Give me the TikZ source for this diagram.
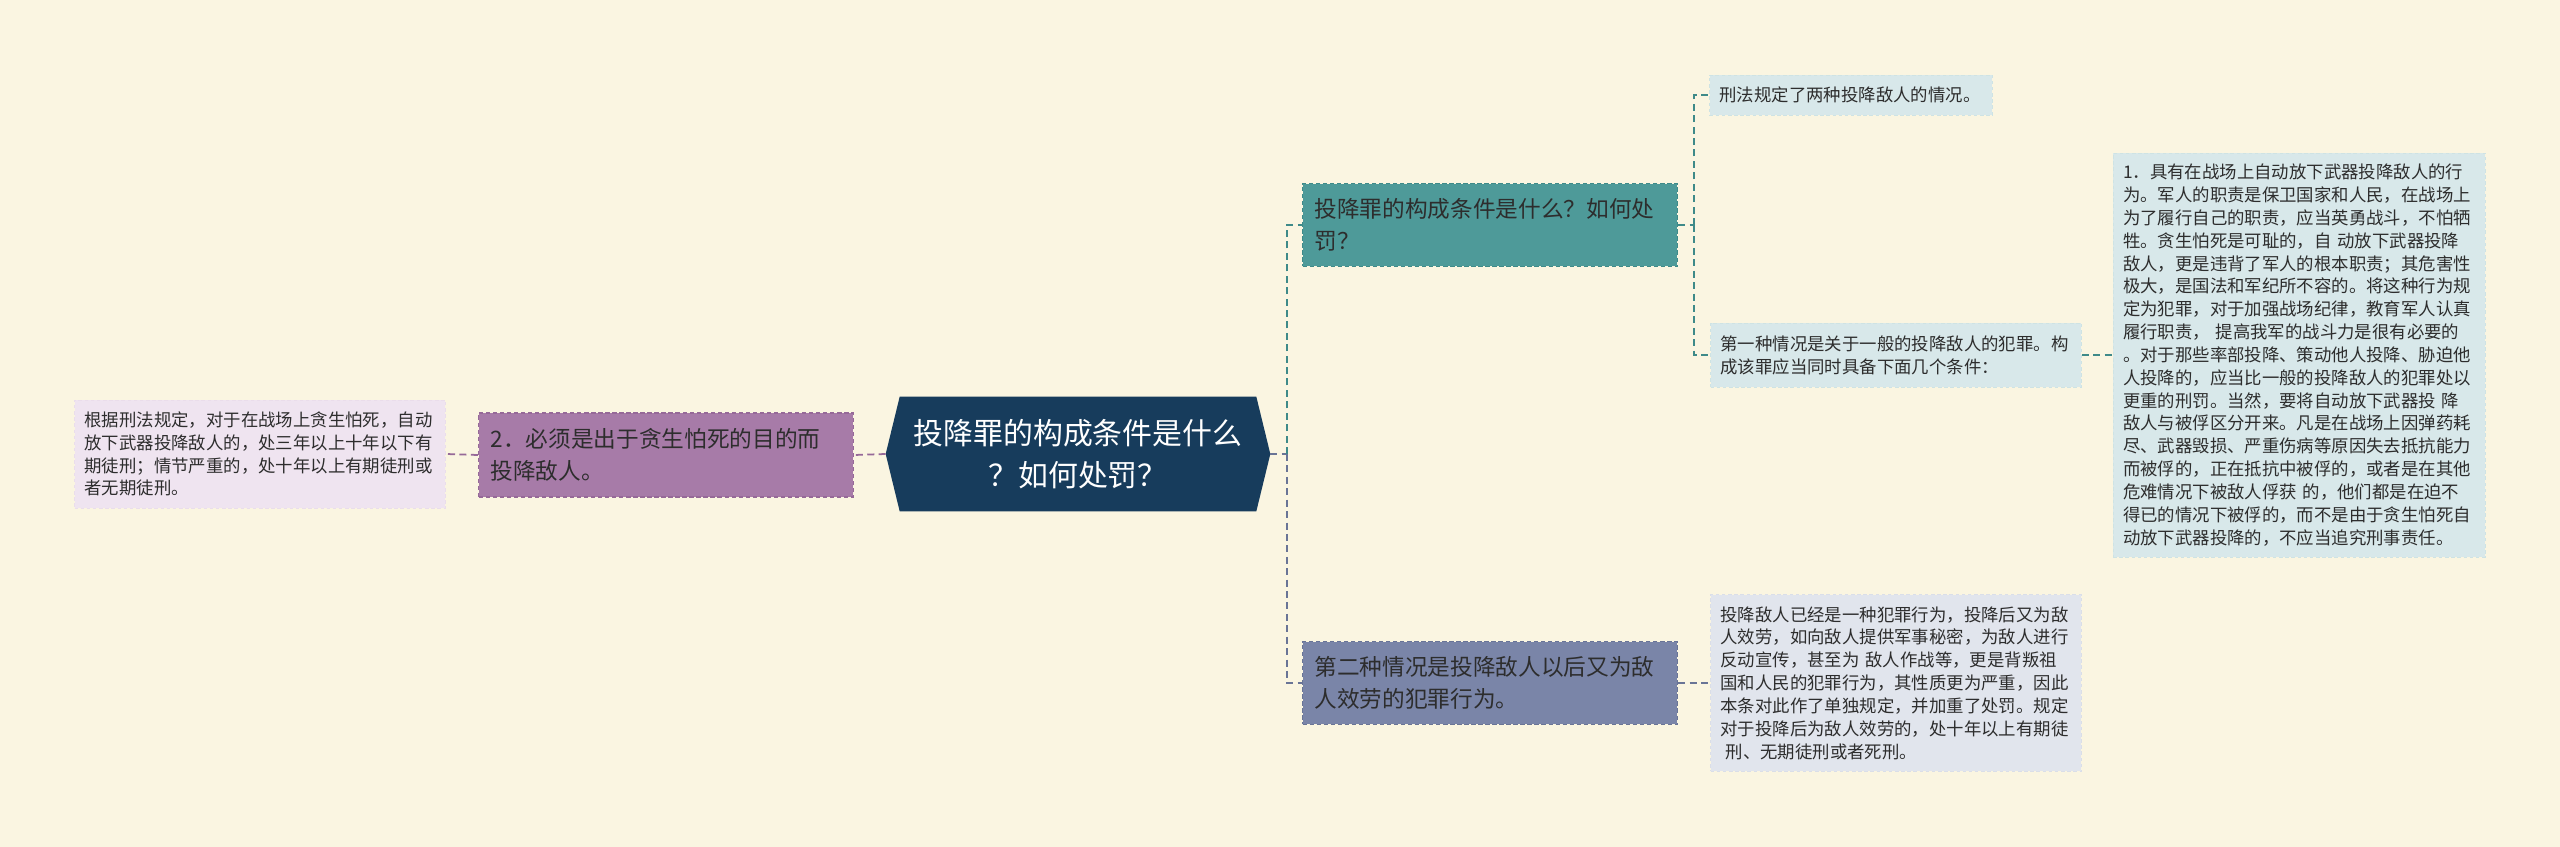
\documentclass[tikz,border=0pt]{standalone}
\usepackage{fontspec}
\usepackage{xcolor}
\usepackage{tikz}
\usetikzlibrary{
  positioning,
  backgrounds,
  calc
}
\newfontfamily\cjk{Noto Sans CJK SC}
\definecolor{Cream}{RGB}{250, 245, 225}
\definecolor{NavyRoot}{RGB}{23, 60, 92}
\definecolor{PurpleMid}{RGB}{167, 123, 168}
\definecolor{PurpleLine}{RGB}{150, 105, 152}
\definecolor{PurpleLeaf}{RGB}{239, 228, 240}
\definecolor{TealMid}{RGB}{78, 154, 153}
\definecolor{TealLine}{RGB}{62, 138, 137}
\definecolor{BlueLeaf}{RGB}{216, 232, 234}
\definecolor{SlateMid}{RGB}{122, 133, 168}
\definecolor{SlateLine}{RGB}{105, 116, 150}
\definecolor{SlateLeaf}{RGB}{225, 229, 237}
\definecolor{TextDark}{RGB}{45, 45, 45}
\tikzset{
    rootbox/.style={text=white, align=center, inner sep=0pt,
        minimum width=7.12cm, minimum height=2.28cm,
        font=\cjk\fontsize{17}{24}\selectfont},
    midbox/.style={draw, dash pattern=on 2.5pt off 1.5pt, line width=0.8pt,
        minimum height=1.66cm, text width=7.02cm, inner xsep=0.24cm,
        align=left, text=TextDark, font=\cjk\fontsize{12.9}{18}\selectfont},
    leafbox/.style={draw, dash pattern=on 2pt off 1.5pt, line width=0.4pt,
        inner xsep=0.2cm, align=left, text=TextDark,
        font=\cjk\fontsize{9.9}{13}\selectfont},
    link/.style={line width=1pt, dash pattern=on 4pt off 2.5pt},
}

\begin{document}
\begin{tikzpicture}[x=0.02cm, y=-0.02cm]
    \useasboundingbox (0,0) rectangle (2560,847);

    % centre
    \node[rootbox] (root) at (1078,454) {投降罪的构成条件是什么\\？如何处罚？};
    \coordinate (rootL) at ([xshift=-0.28cm]root.west);
    \coordinate (rootR) at ([xshift=0.28cm]root.east);

    % left branch
    \node[midbox, fill=PurpleMid, draw=PurpleLine, minimum height=1.68cm] (motive) at (666,455)
        {2．必须是出于贪生怕死的目的而\\投降敌人。};
    \node[leafbox, fill=PurpleLeaf, draw=PurpleLeaf!93!PurpleMid, text width=7.02cm, minimum height=2.16cm] (motivepen) at (260,454)
        {根据刑法规定，对于在战场上贪生怕死，自动\\放下武器投降敌人的，处三年以上十年以下有\\期徒刑；情节严重的，处十年以上有期徒刑或\\者无期徒刑。};

    % right branch
    \node[midbox, fill=TealMid, draw=TealLine] (cond) at (1490,225)
        {投降罪的构成条件是什么？如何处\\罚？};
    \node[leafbox, fill=BlueLeaf, draw=BlueLeaf!93!TealMid, text width=5.26cm, minimum height=0.8cm] (twokinds) at (1851,95)
        {刑法规定了两种投降敌人的情况。};
    \node[leafbox, fill=BlueLeaf, draw=BlueLeaf!93!TealMid, text width=7.02cm, minimum height=1.28cm] (firstkind) at (1896,355)
        {第一种情况是关于一般的投降敌人的犯罪。构\\成该罪应当同时具备下面几个条件：};
    \node[leafbox, fill=BlueLeaf, draw=BlueLeaf!93!TealMid, text width=7.04cm, minimum height=8.08cm] (firstdetail) at (2299,355)
        {1．具有在战场上自动放下武器投降敌人的行\\
         为。军人的职责是保卫国家和人民，在战场上\\
         为了履行自己的职责，应当英勇战斗，不怕牺\\
         牲。贪生怕死是可耻的，自 动放下武器投降\\
         敌人，更是违背了军人的根本职责；其危害性\\
         极大，是国法和军纪所不容的。将这种行为规\\
         定为犯罪，对于加强战场纪律，教育军人认真\\
         履行职责， 提高我军的战斗力是很有必要的\\
         。对于那些率部投降、策动他人投降、胁迫他\\
         人投降的，应当比一般的投降敌人的犯罪处以\\
         更重的刑罚。当然，要将自动放下武器投 降\\
         敌人与被俘区分开来。凡是在战场上因弹药耗\\
         尽、武器毁损、严重伤病等原因失去抵抗能力\\
         而被俘的，正在抵抗中被俘的，或者是在其他\\
         危难情况下被敌人俘获 的，他们都是在迫不\\
         得已的情况下被俘的，而不是由于贪生怕死自\\
         动放下武器投降的，不应当追究刑事责任。};
    \node[midbox, fill=SlateMid, draw=SlateLine] (secondkind) at (1490,683)
        {第二种情况是投降敌人以后又为敌\\人效劳的犯罪行为。};
    \node[leafbox, fill=SlateLeaf, draw=SlateLeaf!93!SlateMid, text width=7.02cm, minimum height=3.54cm] (seconddetail) at (1896,683)
        {投降敌人已经是一种犯罪行为，投降后又为敌\\
         人效劳，如向敌人提供军事秘密，为敌人进行\\
         反动宣传，甚至为 敌人作战等，更是背叛祖\\
         国和人民的犯罪行为，其性质更为严重，因此\\
         本条对此作了单独规定，并加重了处罚。规定\\
         对于投降后为敌人效劳的，处十年以上有期徒\\
         \hspace{0.3em}刑、无期徒刑或者死刑。};

    % connectors
    \coordinate (busR) at (1287,454);
    \coordinate (busT) at (1694,225);
    \draw[link, PurpleLine] (rootL) -- (motive.east);
    \draw[link, PurpleLine] (motive.west) -- (motivepen.east);
    \draw[link, SlateLine] (rootR) -- (busR);
    \draw[link, TealLine] (busR) |- (cond.west);
    \draw[link, SlateLine] (busR) |- (secondkind.west);
    \draw[link, TealLine] (cond.east) -- (busT);
    \draw[link, TealLine] (busT) |- (twokinds.west);
    \draw[link, TealLine] (busT) |- (firstkind.west);
    \draw[link, TealLine] (firstkind.east) -- (firstdetail.west);
    \draw[link, SlateLine] (secondkind.east) -- (seconddetail.west);

    \begin{scope}[on background layer]
        \fill[Cream] (0,0) rectangle (2560,847);
        \fill[NavyRoot] (root.north west) -- (root.north east) -- (rootR)
            -- (root.south east) -- (root.south west) -- (rootL) -- cycle;
    \end{scope}
\end{tikzpicture}
\end{document}
